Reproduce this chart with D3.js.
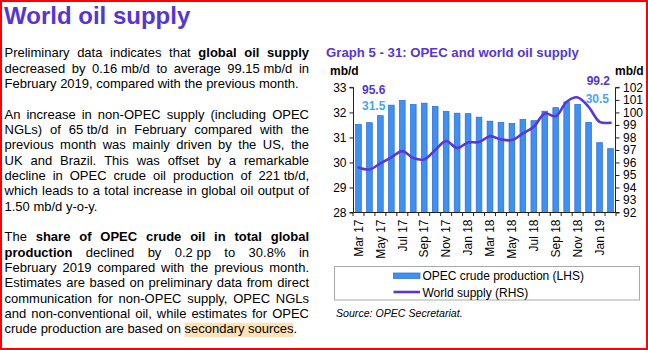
<!DOCTYPE html>
<html>
<head>
<meta charset="utf-8">
<script src="https://cdn.jsdelivr.net/npm/d3@7"></script>
<style>
  html, body { margin: 0; padding: 0; background: #fff; }
  svg { display: block; }
  text { font-family: "Liberation Sans", Arial, Helvetica, sans-serif; }
</style>
</head>
<body>
<script>
// ---------- DATA ----------
const months = ["Mar 17","Apr 17","May 17","Jun 17","Jul 17","Aug 17","Sep 17","Oct 17","Nov 17","Dec 17",
                "Jan 18","Feb 18","Mar 18","Apr 18","May 18","Jun 18","Jul 18","Aug 18","Sep 18","Oct 18",
                "Nov 18","Dec 18","Jan 19","Feb 19"];
const opecCrude = [31.52,31.59,31.87,32.29,32.48,32.32,32.37,32.24,32.04,31.97,
                   31.95,31.81,31.65,31.60,31.56,31.72,31.67,32.05,32.19,32.42,
                   32.32,31.60,30.79,30.55];
const worldSupply = [95.60,95.44,95.92,96.40,96.91,96.35,96.24,96.99,97.71,97.15,
                     97.60,97.63,98.10,97.84,97.79,98.32,98.85,99.92,99.70,100.85,
                     101.20,100.45,99.25,99.17];
const leftTicks = [28,29,30,31,32,33];
const rightTicks = [92,93,94,95,96,97,98,99,100,101,102];
const seriesNames = ["OPEC crude production (LHS)", "World supply (RHS)"];
const startLabels = ["95.6","31.5"];
const endLabels = ["99.2","30.5"];

const bodyLines = [
  ["Preliminary data indicates that **global oil supply**", true],
  ["decreased by 0.16\u00A0mb/d to average 99.15\u00A0mb/d in", true],
  ["February 2019, compared with the previous month.", false],
  null,
  ["An increase in non-OPEC supply (including OPEC", true],
  ["NGLs) of 65\u00A0tb/d in February compared with the", true],
  ["previous month was mainly driven by the US, the", true],
  ["UK and Brazil. This was offset by a remarkable", true],
  ["decline in OPEC crude oil production of 221\u00A0tb/d,", true],
  ["which leads to a total increase in global oil output of", true],
  ["1.50\u00A0mb/d y-o-y.", false],
  null,
  ["The **share of OPEC crude oil in total global**", true],
  ["**production** declined by 0.2\u00A0pp to 30.8% in", true],
  ["February 2019 compared with the previous month.", true],
  ["Estimates are based on preliminary data from direct", true],
  ["communication for non-OPEC supply, OPEC NGLs", true],
  ["and non-conventional oil, while estimates for OPEC", true],
  ["crude production are based on secondary sources.", false]
];

// ---------- SETUP ----------
const W = 648, H = 350;
const svg = d3.select("body").append("svg").attr("width", W).attr("height", H);
svg.append("rect").attr("width", W).attr("height", H).attr("fill", "#fff");

const purple = "#5536d2";
const lightBlue = "#49a3f3";

// Title
svg.append("text").attr("x", 4).attr("y", 23.5)
  .attr("font-size", 24).attr("font-weight", "bold").attr("fill", purple)
  .text("World oil supply");

// ---------- BODY TEXT ----------
const textLeft = 4.5, textRight = 309, base0 = 57.3, lh = 15.33;
const hl = svg.append("g");
const bodyG = svg.append("g");
bodyLines.forEach((ln, i) => {
  if (!ln) return;
  const [s, just] = ln;
  const words = [];
  s.split("**").forEach((p, k) => {
    p.split(" ").filter(w => w.length).forEach(w => words.push({w, b: k % 2 === 1}));
  });
  const y = base0 + lh * i;
  const t = bodyG.append("text").attr("y", y).attr("font-size", 13).attr("fill", "#000");
  const spans = words.map(o => t.append("tspan").attr("font-weight", o.b ? "bold" : null).text(o.w));
  const widths = spans.map(sp => sp.node().getComputedTextLength());
  const sum = d3.sum(widths);
  const gap = just && words.length > 1 ? (textRight - textLeft - sum) / (words.length - 1) : 3.61;
  let x = textLeft;
  spans.forEach((sp, k) => {
    sp.attr("x", x);
    if (words[k].w === "secondary") {
      hl.append("rect").attr("id", "hlstart").attr("x", x).attr("y", y - 10.5).attr("height", 14.2)
        .attr("fill", "#fde2b8");
    }
    if (words[k].w === "sources.") {
      const r = hl.select("#hlstart");
      r.attr("width", x + widths[k] - 3.6 - (+r.attr("x")));
    }
    x += widths[k] + gap;
  });
});

// ---------- CHART ----------
const x0 = 353, x1 = 616, yTop = 87.4, yBot = 212.5;
const x = d3.scaleBand().domain(months).range([x0, x1]).padding(0);
const yL = d3.scaleLinear().domain([28, 33]).range([yBot, yTop]);
const yR = d3.scaleLinear().domain([92, 102]).range([yBot, yTop]);

// Graph title
svg.append("text").attr("x", 326).attr("y", 57.3).attr("font-size", 13.2)
  .attr("font-weight", "bold").attr("fill", purple)
  .text("Graph 5 - 31: OPEC and world oil supply");
svg.append("text").attr("x", 330).attr("y", 75).attr("font-size", 12)
  .attr("font-weight", "bold").attr("fill", "#000").text("mb/d");
svg.append("text").attr("x", 615).attr("y", 75).attr("font-size", 12)
  .attr("font-weight", "bold").attr("fill", "#000").text("mb/d");

// Bars
const bw = x.bandwidth() * 0.52;
svg.append("g").selectAll("rect").data(opecCrude).join("rect")
  .attr("x", (d, i) => x(months[i]) + x.bandwidth() / 2 - bw / 2)
  .attr("width", bw)
  .attr("y", d => yL(d))
  .attr("height", d => yBot - yL(d))
  .attr("fill", "#3f90f3")
  .attr("stroke", "#2b68d4")
  .attr("stroke-width", 0.7);

// Line
const line = d3.line()
  .x((d, i) => x(months[i]) + x.bandwidth() / 2)
  .y(d => yR(d))
  .curve(d3.curveCatmullRom.alpha(0.5));
svg.append("path").datum(worldSupply).attr("d", line)
  .attr("fill", "none").attr("stroke", "#5a36d6").attr("stroke-width", 2.6)
  .attr("stroke-linejoin", "round").attr("stroke-linecap", "round");

// Axes
const axisColor = "#222";
const leftAxis = d3.axisLeft(yL).tickValues(leftTicks).tickSize(3.5).tickPadding(3).tickFormat(d3.format("d"));
const gL = svg.append("g").attr("transform", `translate(${x0},0)`).call(leftAxis);
const rightAxis = d3.axisRight(yR).tickValues(rightTicks).tickSize(3.5).tickPadding(3.5).tickFormat(d3.format("d"));
const gR = svg.append("g").attr("transform", `translate(${x1},0)`).call(rightAxis);
[gL, gR].forEach(g => {
  g.select(".domain").attr("stroke", axisColor).attr("stroke-width", 1);
  g.selectAll(".tick line").attr("stroke", axisColor);
  g.selectAll(".tick text").attr("font-size", 12).attr("fill", "#000")
    .attr("font-family", '"Liberation Sans", Arial, sans-serif');
});
gL.select(".domain").attr("d", `M-3.5,${yTop}H0.5V${yBot}H-3.5`);
gR.select(".domain").attr("d", `M3.5,${yTop}H-0.5V${yBot}H3.5`);

// Bottom axis
const gB = svg.append("g");
gB.append("line").attr("x1", x0).attr("x2", x1).attr("y1", yBot).attr("y2", yBot)
  .attr("stroke", axisColor).attr("stroke-width", 1);
gB.selectAll("line.tk").data(d3.range(months.length + 1)).join("line").attr("class", "tk")
  .attr("x1", i => x0 + i * x.step()).attr("x2", i => x0 + i * x.step())
  .attr("y1", yBot).attr("y2", yBot + 3.5).attr("stroke", axisColor);
gB.selectAll("text").data(months.filter((m, i) => i % 2 === 0)).join("text")
  .attr("transform", m => `translate(${x(m) + x.bandwidth() / 2},${yBot + 7}) rotate(-90)`)
  .attr("text-anchor", "end").attr("dy", "0.35em")
  .attr("font-size", 12).attr("fill", "#000").text(m => m);

// Data labels
svg.append("text").attr("x", 362).attr("y", 94).attr("font-size", 12).attr("font-weight", "bold")
  .attr("fill", purple).text(startLabels[0]);
svg.append("text").attr("x", 362).attr("y", 109.5).attr("font-size", 12).attr("font-weight", "bold")
  .attr("fill", lightBlue).text(startLabels[1]);
svg.append("text").attr("x", 610).attr("y", 85).attr("text-anchor", "end").attr("font-size", 12)
  .attr("font-weight", "bold").attr("fill", purple).text(endLabels[0]);
svg.append("text").attr("x", 609).attr("y", 102.5).attr("text-anchor", "end").attr("font-size", 12)
  .attr("font-weight", "bold").attr("fill", lightBlue).text(endLabels[1]);

// Legend
const lg = svg.append("g");
lg.append("rect").attr("x", 334.5).attr("y", 266.5).attr("width", 305).attr("height", 33.5)
  .attr("fill", "#fff").attr("stroke", "#a9a9a9").attr("stroke-width", 1);
lg.append("rect").attr("x", 393.5).attr("y", 273).attr("width", 26.5).attr("height", 5.5)
  .attr("fill", "#3f90f3").attr("stroke", "#2b68d4").attr("stroke-width", 0.7);
lg.append("text").attr("x", 422.5).attr("y", 280).attr("font-size", 12).attr("fill", "#000")
  .text(seriesNames[0]);
lg.append("line").attr("x1", 393.5).attr("x2", 420).attr("y1", 292).attr("y2", 292)
  .attr("stroke", "#5a36d6").attr("stroke-width", 2.6);
lg.append("text").attr("x", 422.5).attr("y", 296.5).attr("font-size", 12).attr("fill", "#000")
  .text(seriesNames[1]);

// Source
svg.append("text").attr("x", 336).attr("y", 317).attr("font-size", 10.6).attr("font-style", "italic")
  .attr("fill", "#000").text("Source: OPEC Secretariat.");

// Red frame
svg.append("rect").attr("x", 1).attr("y", 1).attr("width", W - 2).attr("height", H - 2)
  .attr("fill", "none").attr("stroke", "#ff0000").attr("stroke-width", 2);
</script>
</body>
</html>
